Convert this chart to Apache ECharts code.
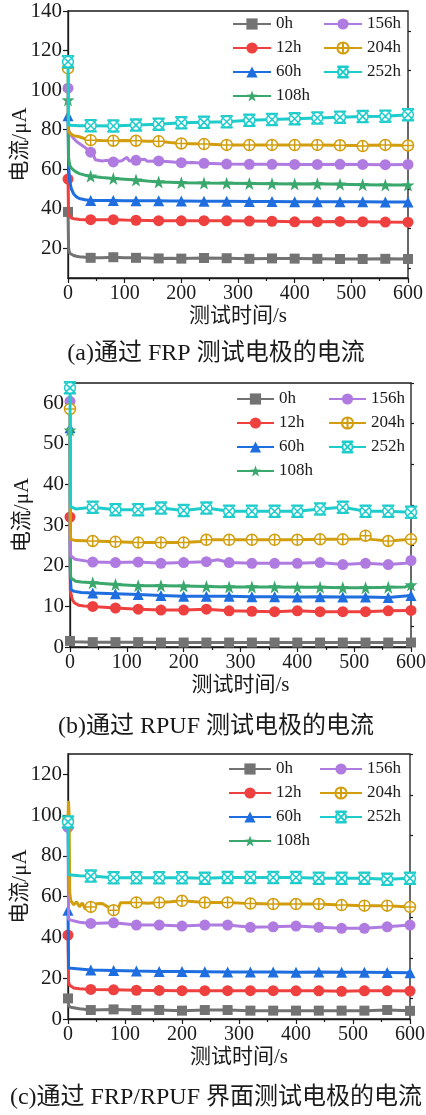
<!DOCTYPE html>
<html>
<head>
<meta charset="utf-8">
<script src="https://cdn.jsdelivr.net/npm/echarts@6/dist/echarts.min.js"></script>
<style>
  html, body { margin: 0; padding: 0; background: #fff; }
  #chart { width: 426px; height: 1115px; }
</style>
</head>
<body>
<div id="chart"></div>
<script>
// Series names (aging time) shared by the three panels
const seriesNames = ['0h', '12h', '60h', '108h', '156h', '204h', '252h'];

// Tick labels
const xTicks = [0, 100, 200, 300, 400, 500, 600];
const yTicksA = [20, 40, 60, 80, 100, 120, 140];
const yTicksB = [0, 10, 20, 30, 40, 50, 60];
const yTicksC = [0, 20, 40, 60, 80, 100, 120];

// Panel (a): current through FRP electrode, [time s, current μA]
const a0h = [[0,38.4],[1,20],[3,17.5],[6,16.8],[10,16.4],[15,16.0],[20,15.8],[30,15.5],[40,15.2],[60,15.3],[80,15.5],[100,15.3],[120,15.2],[140,15.1],[160,14.9],[180,15.0],[200,14.8],[240,15.1],[280,15.0],[320,14.7],[360,14.9],[400,14.8],[440,14.7],[480,14.6],[520,14.6],[560,14.7],[600,14.6]];
const a12h = [[0,55],[1,37],[3,36],[6,35.3],[10,35.0],[15,34.8],[20,34.6],[30,34.5],[40,34.5],[60,34.4],[80,34.5],[100,34.3],[120,34.2],[140,34.1],[160,34.0],[180,34.0],[200,33.9],[240,34.0],[280,33.9],[320,33.8],[360,33.7],[400,33.4],[440,33.5],[480,33.6],[520,33.5],[560,33.3],[600,33.2]];
const a60h = [[0,87],[1,62],[3,54],[6,50],[10,47.5],[15,46],[20,45.2],[30,44.6],[40,44.2],[60,44.2],[80,44.2],[100,44.1],[120,44.1],[140,44.0],[160,44.0],[180,43.9],[200,43.9],[240,43.8],[280,43.8],[320,43.7],[360,43.7],[400,43.6],[440,43.6],[480,43.5],[520,43.5],[560,43.4],[600,43.4]];
const a108h = [[0,95],[1,66],[3,62],[6,60.5],[10,59.5],[15,58.5],[20,57.8],[30,57.0],[40,56.5],[60,55.8],[80,55.3],[100,54.9],[120,54.5],[140,54.0],[160,53.6],[180,53.4],[200,53.2],[240,53.0],[280,52.9],[320,52.8],[360,52.7],[400,52.5],[440,52.6],[480,52.4],[520,52.2],[560,52.0],[600,52.0]];
const a156h = [[0,101],[1,80],[3,78.5],[6,77],[10,75.5],[15,74],[20,73],[30,71],[40,68.6],[45,67.2],[48,64.8],[60,64.2],[70,64.5],[80,63.7],[95,64.3],[104,66],[108,64.2],[120,64.5],[135,65.0],[140,64.0],[160,64.2],[180,63.8],[200,63.3],[220,63.4],[240,63.0],[280,62.6],[320,62.5],[360,62.5],[400,62.4],[440,62.4],[480,62.5],[520,62.4],[560,62.3],[600,62.4]];
const a204h = [[0,111],[1,79],[3,78.2],[6,77.6],[10,77],[20,76.4],[30,75.4],[40,74.7],[60,74.5],[80,74.4],[100,74.5],[120,74.4],[140,74.2],[160,74.1],[180,73.5],[200,73.0],[240,72.7],[280,72.3],[320,72.2],[360,72.3],[400,72.2],[440,72.3],[480,72.1],[510,72.0],[520,71.7],[530,72.1],[560,72.3],[600,72.0]];
const a252h = [[0,114.3],[1,82.5],[5,82.2],[20,82.0],[40,82.0],[80,81.9],[120,82.3],[160,82.8],[200,83.5],[240,83.7],[280,84.0],[320,84.7],[360,85.1],[400,85.5],[440,85.9],[480,86.3],[520,86.6],[560,86.8],[600,87.5]];

// Panel (b): current through RPUF electrode
const b0h = [[0,1.5],[5,1.3],[40,1.2],[80,1.2],[120,1.2],[160,1.1],[200,1.1],[240,1.1],[280,1.1],[320,1.1],[360,1.1],[400,1.1],[440,1.1],[480,1.1],[520,1.1],[560,1.1],[600,1.1]];
const b12h = [[0,32],[0.5,14],[2,13],[4,11.7],[7.5,10.9],[15,10.3],[25,10.1],[40,10.0],[80,9.6],[120,9.3],[160,9.1],[200,9.1],[240,9.3],[280,8.9],[320,8.8],[360,8.7],[400,8.9],[440,8.7],[480,8.7],[520,8.7],[560,8.9],[600,9.0]];
const b60h = [[0,54],[0.5,17],[2,14.1],[7.5,13.7],[20,13.4],[40,13.3],[80,13.1],[120,12.9],[160,12.7],[200,12.5],[240,12.5],[280,12.5],[320,12.4],[360,12.4],[400,12.3],[440,12.4],[480,12.3],[520,12.3],[560,12.2],[600,12.7]];
const b108h = [[0,53.4],[0.5,19],[1.5,17],[3,16.6],[10,16.2],[20,16.0],[40,15.8],[80,15.4],[120,15.1],[160,15.1],[200,15.0],[240,14.9],[280,14.8],[320,14.8],[360,14.8],[400,14.7],[440,14.7],[480,14.6],[520,14.6],[560,14.7],[590,14.8],[600,15.3]];
const b156h = [[0,60.5],[0.5,24],[1.5,22.4],[9,21.6],[40,20.9],[80,20.8],[120,20.9],[160,20.6],[200,20.8],[240,21.0],[260,21.5],[280,20.8],[320,20.6],[360,20.6],[400,20.6],[440,20.8],[480,20.3],[520,20.6],[560,20.3],[590,20.6],[600,21.3]];
const b204h = [[0,58.6],[0.5,28],[1.5,26.5],[10,26.2],[40,26.1],[80,25.9],[120,25.7],[160,25.7],[200,25.7],[230,26.0],[240,26.4],[280,26.4],[320,26.4],[360,26.4],[400,26.4],[440,26.5],[480,26.5],[510,26.6],[520,27.4],[530,26.5],[560,26.1],[600,26.5]];
const b252h = [[0,63.8],[0.5,36],[1.5,34.5],[10,34.0],[40,34.4],[80,33.8],[120,33.8],[160,34.2],[200,33.6],[240,34.2],[280,33.4],[320,33.4],[360,33.4],[400,33.4],[440,34.0],[480,34.4],[520,33.4],[560,33.4],[600,33.2]];

// Panel (c): current through FRP/RPUF interface electrode
const c0h = [[0,10.1],[1,6.5],[5,5.8],[20,5.0],[40,4.4],[80,4.7],[120,4.4],[160,4.4],[200,4.1],[240,4.4],[280,4.4],[320,4.1],[360,4.1],[400,4.1],[440,4.1],[480,4.1],[520,4.1],[560,4.4],[600,4.0]];
const c12h = [[0,41.2],[1,18],[3,16.5],[10,15.2],[20,14.8],[40,14.5],[80,14.3],[120,14.1],[160,14.0],[200,13.9],[240,13.9],[280,13.9],[320,13.9],[360,13.9],[400,13.8],[440,13.8],[480,13.6],[520,13.8],[560,13.8],[600,13.7]];
const c60h = [[0,53.4],[1,25],[3,24.2],[40,24.0],[80,23.8],[120,23.5],[160,23.3],[200,23.3],[240,23.2],[280,23.1],[320,23.1],[360,23.0],[400,22.9],[440,23.0],[480,22.9],[520,22.9],[560,22.8],[600,22.7]];
const c108h = [];
const c156h = [[0,94],[1,49],[5,48.5],[20,47.5],[40,46.9],[80,47.2],[120,46.1],[160,46.1],[200,45.6],[240,46.1],[280,46.1],[320,45.0],[360,45.2],[400,45.6],[440,45.0],[480,44.5],[520,44.5],[560,45.2],[600,46.1]];
const c204h = [[0,97],[0.8,107],[2,100],[3,62],[5,58],[10,56],[15,57.5],[20,55],[25,57],[30,54],[40,55],[50,56.5],[60,56.7],[70,55],[80,53.4],[88,54],[92,57],[100,57],[120,57.2],[140,56.8],[160,57.1],[180,57.5],[200,58.0],[240,57.1],[280,57.2],[320,56.6],[360,56.4],[400,56.4],[440,56.4],[480,55.9],[520,55.6],[560,55.6],[600,55.0]];
const c252h = [[0,96.7],[1,71],[5,70.6],[20,70.3],[40,70.1],[80,69.3],[120,69.3],[160,69.3],[200,69.3],[240,69.0],[280,69.4],[320,69.4],[360,69.4],[400,69.4],[440,69.0],[480,69.0],[520,69.0],[560,68.5],[600,69.0]];

const panelData = [
  [a0h, a12h, a60h, a108h, a156h, a204h, a252h],
  [b0h, b12h, b60h, b108h, b156h, b204h, b252h],
  [c0h, c12h, c60h, c108h, c156h, c204h, c252h]
];

const captions = ['(a)通过 FRP 测试电极的电流', '(b)通过 RPUF 测试电极的电流', '(c)通过 FRP/RPUF 界面测试电极的电流'];

// ---- styling ----
const FONT = "'Liberation Serif', 'Noto Sans CJK SC', serif";
const INK = '#1a1a1a';
const colors = ['#737373', '#ef4040', '#1f6ee0', '#3aa86c', '#b07be0', '#d29e0e', '#1fcccc'];
const plusCircle = 'path://M-10,0 A10,10 0 1,0 10,0 A10,10 0 1,0 -10,0 Z M-10,0 L10,0 M0,-10 L0,10';
const boxCross = 'path://M-10,-10 L10,-10 M-10,10 L10,10 M-9,0 A9,9 0 1,0 9,0 A9,9 0 1,0 -9,0 Z M-10,-10 L10,10 M10,-10 L-10,10';
const star = 'path://M0,-10 L2.35,-3.24 L9.51,-3.09 L3.8,1.24 L5.88,8.09 L0,4 L-5.88,8.09 L-3.8,1.24 L-9.51,-3.09 L-2.35,-3.24 Z';
const symbols = ['rect', 'circle', 'triangle', star, 'circle', plusCircle, boxCross];
const symSizes = [10, 11, 11, 13, 11, 11, 12];
const hollow = [false, false, false, false, false, true, true];

// panel geometry
const grids = [
  { left: 68, top: 11, width: 340, height: 267 },
  { left: 70, top: 383, width: 341, height: 264 },
  { left: 68, top: 754, width: 342, height: 265 }
];
const yRanges = [[5, 140], [0, 65], [0, 130]];
const yMajor = [yTicksA, yTicksB, yTicksC];
const yMinor = [
  yTicksA.map(v => v - 10),
  yTicksB.map(v => v + 5),
  yTicksC.map(v => v + 10)
];
const legendPos = [
  { top: 15, c1: 232, c2: 323, w: 38 },
  { top: 390, c1: 236, c2: 328, w: 37 },
  { top: 760, c1: 228, c2: 319, w: 42 }
];
const captionY = [354, 727, 1098];

const axisLine = { show: true, onZero: false, lineStyle: { color: INK, width: 1.3 } };
const tickStyle = { color: INK, width: 1.2 };

const option = {
  animation: false,
  backgroundColor: '#fff',
  grid: [], xAxis: [], yAxis: [], series: [], legend: [], graphic: []
};

grids.forEach((g, i) => {
  option.grid.push(Object.assign({
    show: true, borderColor: INK, borderWidth: 1.3, backgroundColor: 'transparent',
    containLabel: false, outerBoundsMode: 'none'
  }, g));

  option.xAxis.push({
    gridIndex: i, type: 'value', min: 0, max: 600, interval: 100,
    axisLine: axisLine,
    axisTick: { show: true, length: 5, lineStyle: tickStyle },
    minorTick: { show: true, splitNumber: 2, length: 3, lineStyle: tickStyle },
    splitLine: { show: false }, minorSplitLine: { show: false },
    axisLabel: { color: INK, fontFamily: FONT, fontSize: 20, margin: 6, customValues: xTicks },
    name: '测试时间/s', nameLocation: 'middle', nameGap: 28, nameMoveOverlap: false,
    nameTextStyle: { color: INK, fontFamily: FONT, fontSize: 21 }
  });

  option.yAxis.push({
    gridIndex: i, type: 'value', min: yRanges[i][0], max: yRanges[i][1],
    axisLine: axisLine,
    axisTick: { show: true, length: 5, lineStyle: tickStyle, customValues: yMajor[i] },
    axisLabel: { color: INK, fontFamily: FONT, fontSize: 21, margin: 6, customValues: yMajor[i] },
    splitLine: { show: false },
    name: '电流/μA', nameLocation: 'middle', nameGap: 37, nameMoveOverlap: false,
    nameTextStyle: { color: INK, fontFamily: FONT, fontSize: 21 }
  });
  // minor ticks on the value axis
  option.yAxis.push({
    gridIndex: i, type: 'value', min: yRanges[i][0], max: yRanges[i][1],
    axisLine: { show: false, onZero: false },
    axisTick: { show: true, length: 3, lineStyle: tickStyle, customValues: yMinor[i] },
    axisLabel: { show: false },
    splitLine: { show: false }
  });

  seriesNames.forEach((name, k) => {
    const c = colors[k];
    const sz = symSizes[k];
    option.series.push({
      type: 'line', name: name,
      xAxisIndex: i, yAxisIndex: 2 * i,
      data: panelData[i][k],
      symbol: symbols[k],
      symbolSize: (v) => (v[0] % 40 === 0 ? sz : 0),
      showSymbol: true,
      clip: true,
      lineStyle: { color: c, width: 3 },
      itemStyle: hollow[k]
        ? { color: '#fff', borderColor: c, borderWidth: 1.5 }
        : { color: c, borderWidth: 0 },
      emphasis: { disabled: true },
      z: 2 + k
    });
  });

  const lp = legendPos[i];
  const legendBase = {
    orient: 'vertical', top: lp.top, padding: 0,
    itemWidth: lp.w, itemHeight: 14, itemGap: 6,
    selectedMode: false,
    textStyle: { color: INK, fontFamily: FONT, fontSize: 17, lineHeight: 18 }
  };
  option.legend.push(Object.assign({}, legendBase, { left: lp.c1, data: seriesNames.slice(0, 4) }));
  option.legend.push(Object.assign({}, legendBase, { left: lp.c2, data: seriesNames.slice(4) }));

  option.graphic.push({
    type: 'text', x: 216, y: captionY[i],
    style: {
      text: captions[i], font: "24px 'Liberation Serif', 'Noto Sans CJK SC', serif",
      fill: INK, textAlign: 'center', textVerticalAlign: 'middle'
    }
  });
});

const chart = echarts.init(document.getElementById('chart'), null, { renderer: 'canvas' });
chart.setOption(option);
</script>
</body>
</html>
